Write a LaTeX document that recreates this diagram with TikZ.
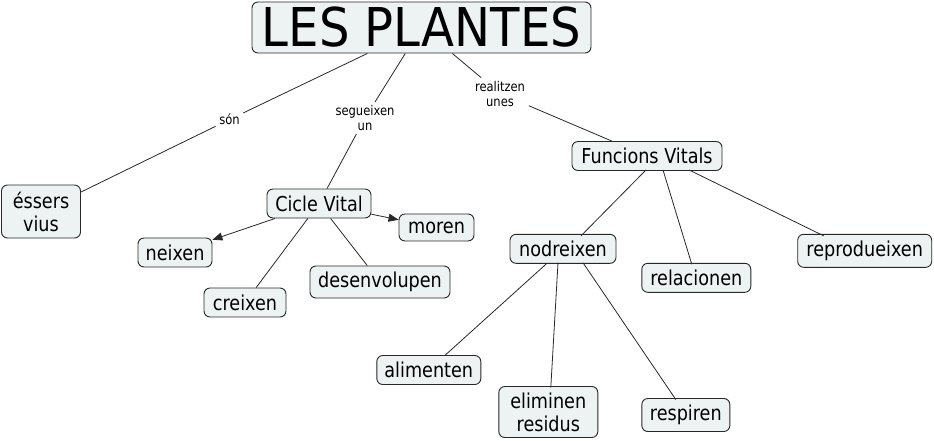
\documentclass[tikz,border=0pt]{standalone}
\usepackage{fontspec}
\setmainfont{DejaVu Sans}[FakeStretch=0.86]
\newfontfamily\titlefont{DejaVu Sans}[FakeStretch=0.9]
\usetikzlibrary{arrows.meta}
\definecolor{cfill}{RGB}{237,243,243}
\definecolor{cline}{RGB}{40,40,40}
\begin{document}
\begin{tikzpicture}[x=1pt,y=-1pt,
  concept/.style={draw=cline, fill=cfill, rounded corners=6pt, line width=0.9pt,
    inner sep=0pt, align=center, font=\fontsize{20.5}{23}\selectfont},
  linklabel/.style={inner xsep=3.5pt, inner ysep=3pt, align=center,
    font=\fontsize{13.4}{15}\selectfont},
  link/.style={draw=cline, line width=0.8pt},
  arrowlink/.style={link, -{Triangle[length=10pt,width=8pt]}}]
\useasboundingbox (0,0) rectangle (934,440);
% concepts
\node[concept, minimum width=339pt, minimum height=51pt, font=\titlefont\fontsize{53.5}{60}\selectfont] (plantes) at (421.5,27.5) {LES PLANTES};
\node[concept, minimum width=79pt, minimum height=53pt] (essers) at (41,211.5) {éssers\\vius};
\node[concept, minimum width=104pt, minimum height=29pt] (cicle) at (319,203.5) {Cicle Vital};
\node[concept, minimum width=75pt, minimum height=27pt] (moren) at (436.5,227.5) {moren};
\node[concept, minimum width=74pt, minimum height=29pt] (neixen) at (175,252.5) {neixen};
\node[concept, minimum width=82pt, minimum height=29pt] (creixen) at (245,302.5) {creixen};
\node[concept, minimum width=140pt, minimum height=32pt] (desenv) at (380,282) {desenvolupen};
\node[concept, minimum width=150pt, minimum height=29pt] (funcions) at (647,156) {Funcions Vitals};
\node[concept, minimum width=106pt, minimum height=29pt] (nodreixen) at (563,248.8) {nodreixen};
\node[concept, minimum width=109pt, minimum height=29pt] (relacionen) at (696.3,277.8) {relacionen};
\node[concept, minimum width=134pt, minimum height=33pt] (reprod) at (864.7,250.8) {reprodueixen};
\node[concept, minimum width=104pt, minimum height=29pt] (alimenten) at (428.8,370) {alimenten};
\node[concept, minimum width=99pt, minimum height=51pt] (eliminen) at (548.3,412) {eliminen\\residus};
\node[concept, minimum width=88pt, minimum height=33pt] (respiren) at (685.8,415) {respiren};
% link labels
\node[linklabel] (son) at (229.5,119.5) {són};
\node[linklabel] (segueixen) at (365,118) {segueixen\\un};
\node[linklabel] (realitzen) at (500,93.5) {realitzen\\unes};
% connectors
\draw[link] (plantes) -- (son);
\draw[link] (son) -- (essers);
\draw[link] (plantes) -- (segueixen);
\draw[link] (segueixen) -- (cicle);
\draw[link] (plantes) -- (realitzen);
\draw[link] (realitzen) -- (funcions);
\draw[arrowlink] (cicle) -- (neixen);
\draw[arrowlink] (cicle) -- (moren);
\draw[link] (cicle) -- (creixen);
\draw[link] (cicle) -- (desenv);
\draw[link] ([xshift=-1pt,yshift=1pt]funcions.south) -- ([xshift=18pt,yshift=-2pt]nodreixen.north);
\draw[link] ([xshift=16pt,yshift=1pt]funcions.south) -- ([xshift=-4.5pt,yshift=-1.5pt]relacionen.north);
\draw[link] ([xshift=42pt,yshift=1pt]funcions.south) -- ([xshift=-41pt,yshift=-2pt]reprod.north);
\draw[link] (nodreixen) -- (alimenten);
\draw[link] ([xshift=-5pt,yshift=1pt]nodreixen.south) -- ([xshift=2.5pt,yshift=-1.5pt]eliminen.north);
\draw[link] ([xshift=20pt,yshift=1pt]nodreixen.south) -- ([xshift=-10pt,yshift=-1.5pt]respiren.north);
\end{tikzpicture}
\end{document}
